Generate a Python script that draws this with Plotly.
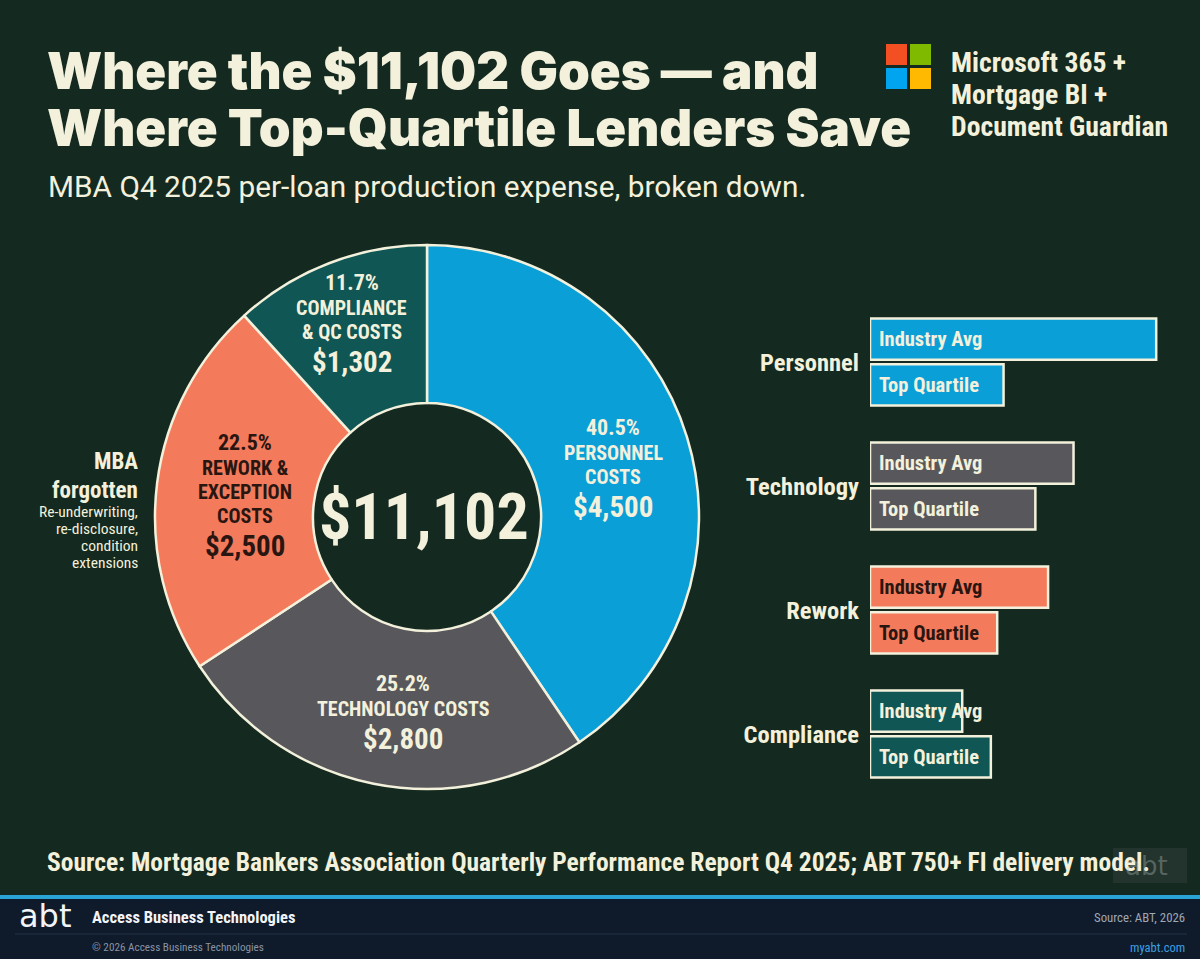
import math
import plotly.graph_objects as go

W, H = 1200, 959
BG = "#14291f"
CREAM = "#f3f1dc"
COND = "Liberation Sans Narrow, Roboto Condensed, DejaVu Sans Condensed, Roboto, sans-serif"
HEAVY = "Inter, Roboto, sans-serif"

# ---------------- data ----------------
seg_names = [["PERSONNEL", "COSTS"], ["TECHNOLOGY COSTS"], ["REWORK &", "EXCEPTION", "COSTS"], ["COMPLIANCE", "& QC COSTS"]]
seg_values = [4500, 2800, 2500, 1302]
seg_colors = ["#0b9fd8", "#58585c", "#f47a5c", "#0f5654"]
seg_text_colors = [CREAM, CREAM, "#2a1610", CREAM]

bar_categories = ["Personnel", "Technology", "Rework", "Compliance"]
industry_avg = [4500, 3200, 2800, 1450]
top_quartile = [2100, 2600, 2000, 1900]
bar_colors = ["#0b9fd8", "#58585c", "#f47a5c", "#0f5654"]
bar_text_colors = [CREAM, CREAM, "#2a1610", CREAM]
bar_series = ["Industry Avg", "Top Quartile"]

# ---------------- geometry ----------------
CX, CY = 427, 517          # donut centre (px)
R_OUT, R_IN = 272, 114


def px(x):
    return x / W


def py(y):
    return (H - y) / H


annotations = []
shapes = []


def txt(x, y, text, size, color=CREAM, family=COND, weight="normal", xanchor="center"):
    annotations.append(dict(x=px(x), y=py(y), xref="paper", yref="paper", text=text,
                            showarrow=False, xanchor=xanchor, yanchor="middle",
                            font=dict(family=family, size=size, color=color, weight=weight)))


fig = go.Figure()

fig.add_trace(go.Pie(
    labels=[" ".join(n) for n in seg_names],
    values=seg_values,
    sort=False,
    direction="clockwise",
    rotation=0,
    hole=R_IN / R_OUT,
    marker=dict(colors=seg_colors, line=dict(color=CREAM, width=2.5)),
    textinfo="none",
    hoverinfo="label+value+percent",
    showlegend=False,
    domain=dict(x=[px(CX - R_OUT), px(CX + R_OUT)], y=[py(CY + R_OUT), py(CY - R_OUT)]),
))

for i, (series, vals) in enumerate(zip(bar_series, [industry_avg, top_quartile])):
    fig.add_trace(go.Bar(
        name=series,
        y=bar_categories,
        x=vals,
        orientation="h",
        marker=dict(color=bar_colors, line=dict(color=CREAM, width=2.5)),
        showlegend=False,
        xaxis="x", yaxis="y",
    ))

# donut labels positioned from slice mid-angles
total = sum(seg_values)
label_r = [193, 196, 183, 209]
label_da = [2.0, -4.3, 0.0, 0.0]
cum = 0
for i, v in enumerate(seg_values):
    mid = math.radians((cum + v / 2) / total * 360 + label_da[i])
    cum += v
    lx = CX + label_r[i] * math.sin(mid)
    ly = CY - label_r[i] * math.cos(mid)
    pct = v / total * 100
    lines = [(f"{pct:.1f}%", 22)] + [(n, 20) for n in seg_names[i]] + [(f"${v:,.0f}", 29)]
    ys = [0.0]
    for k in range(1, len(lines)):
        if k == 1:
            gap = 25.5
        elif k == len(lines) - 1:
            gap = 30
        else:
            gap = 24
        ys.append(ys[-1] + gap)
    off = (ys[0] + ys[-1]) / 2
    for (t, s), yy in zip(lines, ys):
        txt(lx, ly + yy - off, t, s, color=seg_text_colors[i], weight="bold")

txt(CX - 3, CY, f"${total:,.0f}", 64, weight="bold")

# bar inner labels
for i, cat in enumerate(bar_categories):
    for j, s in enumerate(bar_series):
        annotations.append(dict(x=0, y=cat, xref="x", yref="y", text=s, showarrow=False,
                                xanchor="left", yanchor="middle", xshift=7,
                                yshift=23 if j == 0 else -23,
                                font=dict(family=COND, size=20.5, color=bar_text_colors[i], weight="bold")))

# left side note
txt(140, 462, "MBA", 23, weight="bold", xanchor="right")
txt(140, 490, "forgotten", 23, weight="bold", xanchor="right")
for k, t in enumerate(["Re-underwriting,", "re-disclosure,", "condition", "extensions"]):
    txt(140, 512 + 17 * k, t, 15.5, xanchor="right")

# title + subtitle
txt(45, 70, "Where the $11,102 Goes — and", 51, family=HEAVY, weight=900, xanchor="left")
txt(45, 128, "Where Top-Quartile Lenders Save", 51, family=HEAVY, weight=900, xanchor="left")
txt(46, 187, "MBA Q4 2025 per-loan production expense, broken down.", 29.8,
    family="Roboto, sans-serif", xanchor="left")

# Microsoft logo + caption
ms_cols = [["#f25022", "#7fba00"], ["#00a4ef", "#ffb900"]]
for r in range(2):
    for c in range(2):
        x0 = 886 + c * 24
        y0 = 44 + r * 24
        shapes.append(dict(type="rect", xref="paper", yref="paper",
                           x0=px(x0), x1=px(x0 + 21), y0=py(y0 + 21), y1=py(y0),
                           fillcolor=ms_cols[r][c], line=dict(width=0)))
for k, t in enumerate(["Microsoft 365 +", "Mortgage BI +", "Document Guardian"]):
    txt(949, 62 + 32.5 * k, t, 27.7, weight="bold", xanchor="left")

# source line
txt(45, 862, "Source: Mortgage Bankers Association Quarterly Performance Report Q4 2025; ABT 750+ FI delivery model.",
    25.5, weight="bold", xanchor="left")
shapes.append(dict(type="rect", xref="paper", yref="paper", x0=px(1113), x1=px(1187),
                   y0=py(883), y1=py(848), fillcolor="rgba(70,80,80,0.3)", line=dict(width=0)))
txt(1146, 866, "abt", 26, color="rgba(190,195,195,0.35)", family="DejaVu Sans")

# footer
shapes.append(dict(type="rect", xref="paper", yref="paper", x0=0, x1=1, y0=0, y1=py(898),
                   fillcolor="#0f1a2b", line=dict(width=0), layer="below"))
shapes.append(dict(type="rect", xref="paper", yref="paper", x0=0, x1=1, y0=py(899), y1=py(895),
                   fillcolor="#2aa3d5", line=dict(width=0)))
shapes.append(dict(type="line", xref="paper", yref="paper", x0=px(15), x1=px(1187), y0=py(934), y1=py(934),
                   line=dict(color="#24324a", width=1)))
txt(45, 916, "abt", 32, color="#f2f4f8", family="DejaVu Sans")
txt(90, 917, "Access Business Technologies", 16.5, color="#f2f4f8", weight="bold", xanchor="left")
txt(90, 947, "© 2026 Access Business Technologies", 11.2, color="#8b94a3", xanchor="left")
txt(1187, 917, "Source: ABT, 2026", 12.8, color="#a0a8b4", xanchor="right")
txt(1187, 947, "myabt.com", 12.5, color="#3aa0e0", xanchor="right")

fig.update_layout(
    width=W, height=H,
    margin=dict(l=0, r=0, t=0, b=0),
    paper_bgcolor=BG, plot_bgcolor="rgba(0,0,0,0)",
    barmode="group", bargap=0.26, bargroupgap=0.1,
    xaxis=dict(domain=[px(870), px(1188)], range=[0, 5000], visible=False, fixedrange=True),
    yaxis=dict(domain=[py(796), py(300)], range=[3.5, -0.5], type="category",
               showgrid=False, zeroline=False, showline=False, ticks="",
               ticklabelstandoff=10,
               tickfont=dict(family=COND, size=24.5, color=CREAM, weight="bold"), anchor="x"),
    annotations=annotations,
    shapes=shapes,
)

fig.write_html("out.html")
